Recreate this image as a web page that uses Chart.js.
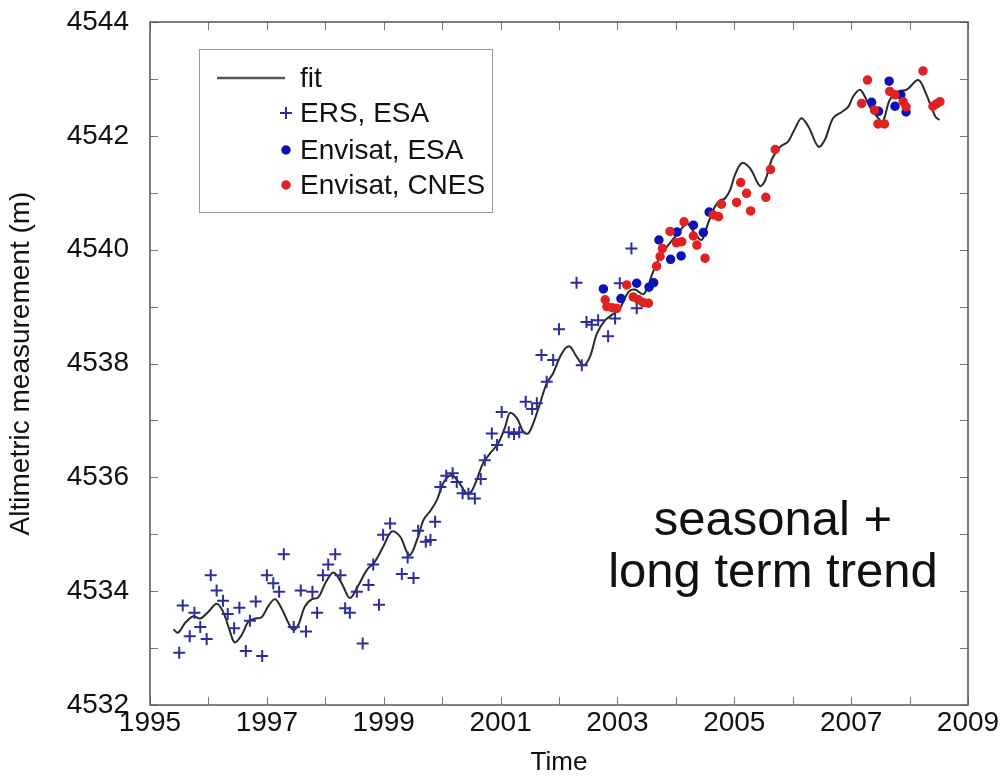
<!DOCTYPE html>
<html>
<head>
<meta charset="utf-8">
<script src="https://cdn.jsdelivr.net/npm/chart.js@4/dist/chart.umd.min.js"></script>
<style>
  html, body { margin: 0; padding: 0; background: #fff; }
  #wrap { position: relative; width: 1001px; height: 780px; }
</style>
</head>
<body>
<div id="wrap"><canvas id="chart" width="1001" height="780"></canvas></div>
<script>
// fit curve (trend + seasonal)
const fitYears = [1995.40,1995.48,1995.60,1995.74,1995.86,1996.00,1996.14,1996.25,1996.37,1996.45,1996.57,1996.68,1996.80,1996.91,
  1997.02,1997.14,1997.25,1997.37,1997.45,1997.54,1997.65,1997.77,1997.88,1998.00,1998.14,1998.28,1998.42,1998.57,1998.71,1998.85,
  1998.99,1999.14,1999.28,1999.44,1999.59,1999.68,1999.79,1999.91,2000.02,2000.16,2000.28,2000.42,2000.50,2000.59,2000.70,2000.82,
  2000.96,2001.08,2001.16,2001.28,2001.39,2001.47,2001.56,2001.65,2001.79,2001.90,2002.05,2002.18,2002.30,2002.42,2002.53,2002.65,
  2002.79,2002.90,2003.04,2003.19,2003.30,2003.45,2003.61,2003.73,2003.87,2004.04,2004.19,2004.30,2004.44,2004.55,2004.67,2004.76,
  2004.84,2004.93,2005.01,2005.13,2005.27,2005.44,2005.53,2005.64,2005.78,2005.92,2006.04,2006.15,2006.27,2006.44,2006.55,2006.69,
  2006.84,2006.95,2007.04,2007.15,2007.24,2007.35,2007.44,2007.54,2007.66,2007.81,2007.95,2008.15,2008.29,2008.44,2008.51];
const fitValues = [4533.33,4533.27,4533.44,4533.56,4533.52,4533.64,4533.78,4533.64,4533.29,4533.10,4533.23,4533.46,4533.52,4533.54,
  4533.73,4533.86,4533.70,4533.44,4533.32,4533.41,4533.73,4533.86,4533.89,4534.14,4534.33,4534.14,4533.88,4534.11,4534.37,4534.52,
  4534.78,4535.05,4534.96,4534.63,4534.96,4535.25,4535.40,4535.60,4535.90,4536.04,4535.92,4535.72,4535.75,4535.95,4536.25,4536.42,
  4536.60,4536.89,4537.13,4537.04,4536.80,4536.77,4536.95,4537.22,4537.65,4537.83,4538.18,4538.30,4538.12,4537.97,4538.12,4538.53,
  4538.76,4538.85,4538.97,4539.26,4539.30,4539.22,4539.61,4539.88,4540.08,4540.29,4540.46,4540.32,4540.17,4540.46,4540.76,4540.87,
  4540.90,4541.05,4541.31,4541.52,4541.43,4541.12,4541.22,4541.58,4541.80,4541.90,4542.13,4542.31,4542.16,4541.81,4541.93,4542.31,
  4542.42,4542.51,4542.70,4542.81,4542.68,4542.45,4542.34,4542.25,4542.63,4542.78,4542.81,4542.98,4542.72,4542.34,4542.28];

// ERS, ESA
const ersYears = [1995.50,1995.56,1995.68,1995.76,1995.86,1995.97,1996.04,1996.14,1996.25,1996.33,
  1996.44,1996.53,1996.64,1996.71,1996.81,1996.92,1997.00,1997.11,1997.21,1997.29,
  1997.46,1997.58,1997.67,1997.78,1997.86,1997.96,1998.05,1998.17,1998.26,1998.34,
  1998.42,1998.54,1998.64,1998.74,1998.82,1998.92,1998.99,1999.11,1999.31,1999.41,
  1999.51,1999.59,1999.72,1999.80,1999.88,1999.97,2000.07,2000.18,2000.25,2000.35,
  2000.45,2000.56,2000.66,2000.73,2000.85,2000.94,2001.02,2001.14,2001.23,2001.32,
  2001.43,2001.54,2001.62,2001.70,2001.79,2001.90,2002.00,2002.30,2002.39,2002.47,
  2002.56,2002.67,2002.84,2002.96,2003.04,2003.24,2003.33];
const ersValues = [4532.92,4533.75,4533.21,4533.62,4533.37,4533.16,4534.28,4534.01,4533.83,4533.60,
  4533.35,4533.71,4532.95,4533.48,4533.82,4532.86,4534.28,4534.14,4533.99,4534.65,
  4533.37,4534.01,4533.29,4533.99,4533.62,4534.28,4534.47,4534.65,4534.28,4533.70,
  4533.62,4533.99,4533.08,4534.11,4534.47,4533.76,4534.99,4535.19,4534.30,4534.59,
  4534.23,4535.06,4534.87,4534.90,4535.22,4535.83,4536.03,4536.07,4535.92,4535.72,
  4535.71,4535.63,4535.97,4536.30,4536.77,4536.57,4537.15,4536.79,4536.76,4536.79,
  4537.33,4537.20,4537.30,4538.15,4537.68,4538.06,4538.60,4539.42,4537.97,4538.73,
  4538.68,4538.76,4538.48,4538.79,4539.41,4540.02,4538.97];

// Envisat, ESA
const esaYears = [2002.76,2003.06,2003.33,2003.54,2003.62,2003.71,2003.91,2004.02,2004.09,2004.30,2004.47,2004.57,
  2007.35,2007.47,2007.65,2007.75,2007.85,2007.94];
const esaValues = [4539.31,4539.14,4539.41,4539.34,4539.42,4540.17,4539.83,4540.31,4539.89,4540.43,4540.30,4540.66,
  4542.59,4542.43,4542.96,4542.52,4542.72,4542.42];

// Envisat, CNES
const cnesYears = [2002.79,2002.82,2002.91,2002.99,2003.16,2003.27,2003.36,2003.44,2003.53,2003.67,
  2003.73,2003.77,2003.90,2004.01,2004.10,2004.14,2004.30,2004.36,2004.50,2004.64,
  2004.73,2004.78,2005.04,2005.11,2005.21,2005.28,2005.54,2005.62,2005.70,2007.18,
  2007.28,2007.40,2007.46,2007.57,2007.66,2007.75,2007.89,2007.94,2008.23,2008.40,
  2008.46,2008.52];
const cnesValues = [4539.12,4539.00,4538.98,4538.97,4539.38,4539.17,4539.12,4539.07,4539.06,4539.71,
  4539.88,4540.02,4540.32,4540.12,4540.14,4540.49,4540.24,4540.08,4539.85,4540.61,
  4540.58,4540.80,4540.83,4541.18,4540.99,4540.68,4540.92,4541.41,4541.76,4542.57,
  4542.98,4542.45,4542.21,4542.21,4542.78,4542.72,4542.60,4542.51,4543.14,4542.52,
  4542.56,4542.60];

const seriesLabels = ["fit", "ERS, ESA", "Envisat, ESA", "Envisat, CNES"];
const noteLines = ["seasonal +", "long term trend"];

const FONT = "'Liberation Sans', Arial, sans-serif";
Chart.defaults.font.family = FONT;

function toPoints(xs, ys) {
    return xs.map((x, i) => ({ x: x, y: ys[i] }));
}

// box frame with inward ticks on all four sides
const frameTicks = {
    id: "frameTicks",
    beforeDatasetsDraw(chart) {
        const { ctx, chartArea: a, scales: { x, y } } = chart;
        ctx.save();
        ctx.strokeStyle = "#777";
        ctx.lineWidth = 1;
        ctx.beginPath();
        x.ticks.forEach(t => {
            const px = Math.round(x.getPixelForValue(t.value)) + 0.5;
            ctx.moveTo(px, a.bottom); ctx.lineTo(px, a.bottom - 8);
            ctx.moveTo(px, a.top); ctx.lineTo(px, a.top + 8);
        });
        y.ticks.forEach(t => {
            const py = Math.round(y.getPixelForValue(t.value)) + 0.5;
            ctx.moveTo(a.left, py); ctx.lineTo(a.left + 8, py);
            ctx.moveTo(a.right, py); ctx.lineTo(a.right - 8, py);
        });
        ctx.stroke();
        ctx.strokeStyle = "#555";
        ctx.lineWidth = 1.5;
        ctx.strokeRect(a.left, a.top, a.right - a.left, a.bottom - a.top);
        ctx.restore();
    }
};

// legend box inside the plot, line sample on the left, marker right next to the label
const boxLegend = {
    id: "boxLegend",
    afterDraw(chart) {
        const ctx = chart.ctx;
        const rows = [78, 113, 150, 185];
        ctx.save();
        ctx.fillStyle = "#fff";
        ctx.fillRect(199, 49, 293, 163);
        ctx.strokeStyle = "#999";
        ctx.lineWidth = 1;
        ctx.strokeRect(199.5, 49.5, 293, 163);
        chart.data.datasets.forEach((ds, i) => {
            const yy = rows[i];
            if (ds.showLine) {
                ctx.strokeStyle = "#555";
                ctx.lineWidth = 2.5;
                ctx.beginPath();
                ctx.moveTo(217, yy); ctx.lineTo(285, yy);
                ctx.stroke();
            } else {
                ctx.fillStyle = ds.backgroundColor;
                ctx.strokeStyle = ds.borderColor;
                ctx.lineWidth = ds.borderWidth;
                Chart.helpers.drawPoint(ctx, {
                    pointStyle: ds.pointStyle,
                    radius: ds.pointRadius,
                    borderWidth: ds.borderWidth,
                    rotation: 0
                }, 286, yy);
            }
            ctx.fillStyle = "#111";
            ctx.font = "28px " + FONT;
            ctx.textAlign = "left";
            ctx.textBaseline = "middle";
            ctx.fillText(ds.label, 300, yy + 1);
        });
        ctx.restore();
    }
};

const note = {
    id: "note",
    afterDraw(chart) {
        const ctx = chart.ctx;
        ctx.save();
        ctx.fillStyle = "#111";
        ctx.font = "49px " + FONT;
        ctx.textAlign = "center";
        ctx.textBaseline = "middle";
        ctx.fillText(noteLines[0], 773, 521);
        ctx.fillText(noteLines[1], 773, 573);
        ctx.restore();
    }
};

new Chart(document.getElementById("chart"), {
    type: "scatter",
    data: {
        datasets: [
            {
                label: seriesLabels[0],
                data: toPoints(fitYears, fitValues),
                showLine: true,
                tension: 0.35,
                borderColor: "#2a2a2a",
                backgroundColor: "#2a2a2a",
                borderWidth: 2,
                pointRadius: 0,
                order: 4
            },
            {
                label: seriesLabels[1],
                data: toPoints(ersYears, ersValues),
                pointStyle: "cross",
                pointRadius: 6,
                borderWidth: 2,
                borderColor: "#2d2d9e",
                backgroundColor: "#2d2d9e",
                order: 3
            },
            {
                label: seriesLabels[2],
                data: toPoints(esaYears, esaValues),
                pointStyle: "circle",
                pointRadius: 4,
                borderWidth: 1.5,
                borderColor: "#0c12b4",
                backgroundColor: "#0c12b4",
                order: 2
            },
            {
                label: seriesLabels[3],
                data: toPoints(cnesYears, cnesValues),
                pointStyle: "circle",
                pointRadius: 4,
                borderWidth: 1.5,
                borderColor: "#e02222",
                backgroundColor: "#e02222",
                order: 1
            }
        ]
    },
    options: {
        responsive: false,
        animation: false,
        layout: { padding: { top: 22, right: 33, left: 0, bottom: 0 } },
        plugins: {
            legend: { display: false },
            tooltip: { enabled: false }
        },
        scales: {
            x: {
                type: "linear",
                min: 1995,
                max: 2009,
                afterFit: s => { s.height = 75; s.paddingLeft = 0; s.paddingRight = 0; },
                grid: { display: false, drawTicks: false },
                border: { display: false },
                ticks: {
                    stepSize: 1,
                    autoSkip: false,
                    maxRotation: 0,
                    padding: 1,
                    color: "#111",
                    font: { size: 28 },
                    callback: v => (v % 2 ? String(v) : "")
                },
                title: {
                    display: true,
                    text: "Time",
                    color: "#111",
                    font: { size: 26 },
                    padding: { top: 0, bottom: 2 }
                }
            },
            y: {
                type: "linear",
                min: 4532,
                max: 4544,
                afterFit: s => { s.width = 150; s.paddingTop = 0; s.paddingBottom = 0; },
                grid: { display: false, drawTicks: false },
                border: { display: false },
                ticks: {
                    stepSize: 1,
                    autoSkip: false,
                    padding: 21,
                    color: "#111",
                    font: { size: 28 },
                    callback: v => (v % 2 === 0 ? String(v) : "")
                },
                title: {
                    display: true,
                    text: "Altimetric measurement (m)",
                    color: "#111",
                    font: { size: 28 },
                    padding: { top: 4, bottom: 0 }
                }
            }
        }
    },
    plugins: [frameTicks, boxLegend, note]
});
</script>
</body>
</html>
